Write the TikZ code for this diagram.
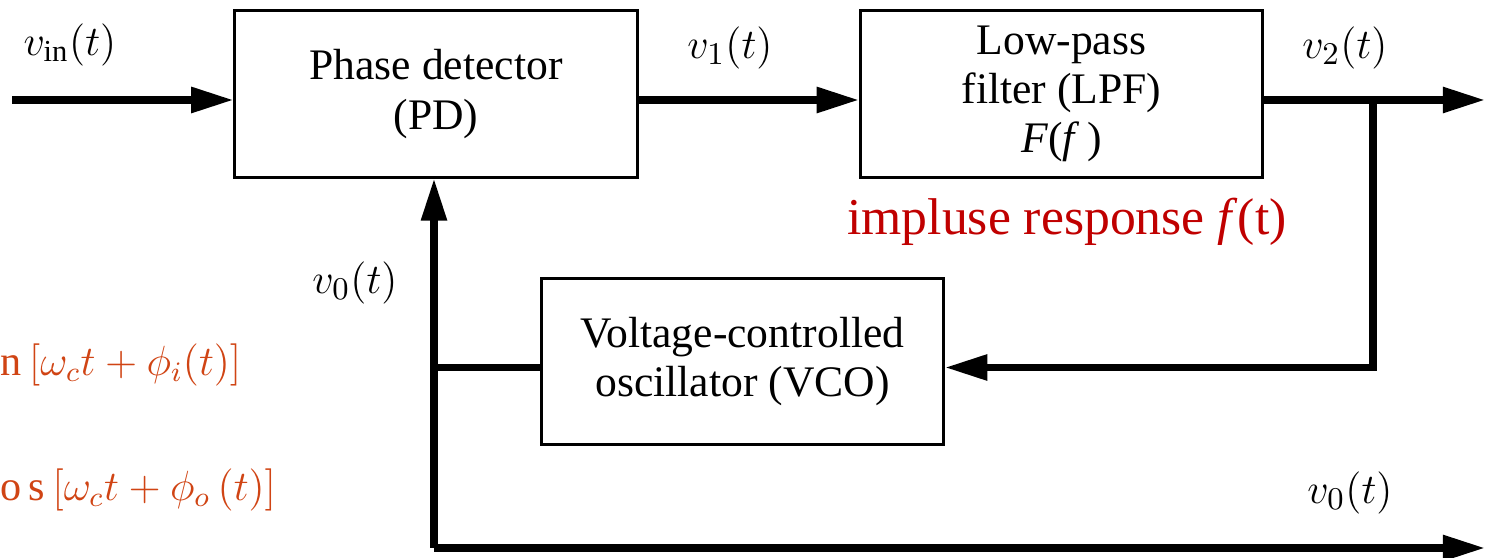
\documentclass[tikz,border=0pt]{standalone}
\usepackage{fontspec}
\setmainfont{Liberation Serif}
\usetikzlibrary{arrows.meta,positioning}
\definecolor{respred}{RGB}{192,0,0}
\definecolor{eqorange}{RGB}{208,68,20}
\begin{document}
\begin{tikzpicture}[x=0.01cm, y=0.01cm]
        \tikzset{blockbox/.style={rectangle, draw, line width=0.85pt, minimum width=4.02cm, minimum height=1.66cm, align=center, font=\fontsize{12.4}{14}\selectfont},
                 sig/.style={line width=2pt, -{Triangle[length=12pt, width=7pt]}},
                 wire/.style={line width=2pt},
                 siglabel/.style={font=\fontsize{12.4}{14}\selectfont},
                 eqtext/.style={text=eqorange, anchor=west, inner sep=0pt, font=\fontsize{12}{14}\selectfont}}
        \useasboundingbox (0,0) rectangle (1487,558);
        \node[blockbox] (pd) at (436,464) {Phase detector\\(PD)};
        \node[blockbox] (lpf) at (1061.5,464) {Low-pass\\filter (LPF)\\\textit{F}(\textit{f}\,)};
        \node[blockbox] (vco) at (742.5,196.5) {Voltage-controlled\\oscillator (VCO)};
        \coordinate (in) at (12,458);
        \coordinate (out) at (1485,458);
        \coordinate (tap) at (1373,458);
        \coordinate (fb) at (434,10);
        \coordinate (fbout) at (1485,10);
        \draw[sig] (in) -- (in -| pd.west);
        \draw[sig] (pd.east |- in) -- (lpf.west |- in);
        \draw[sig] (lpf.east |- in) -- (out);
        \draw[sig] (tap) |- ([yshift=-0.06cm]vco.east);
        \draw[wire] ([yshift=-0.06cm]vco.west) -| (fb);
        \draw[sig] (fb) -- (fb |- pd.south);
        \draw[sig] (fb) -- (fbout);
        \node[siglabel] (lin) at (70,513) {$v_{\mathrm{in}}(t)$};
        \node[siglabel] (l1) at (730,510) {$v_1(t)$};
        \node[siglabel] (l2) at (1345,510) {$v_2(t)$};
        \node[siglabel] (l0) at (355,275) {$v_0(t)$};
        \node[siglabel] (l0out) at (1350,65) {$v_0(t)$};
        \node[text=respred, font=\fontsize{14.7}{16}\selectfont] (resp) at (1067,336) {impluse response \textit{f}(t)};
        \node[eqtext] (eqin) at (0,193) {$\mathrm{n}\,[\omega_c t+\phi_i(t)]$};
        \node[eqtext] (eqout) at (0,68) {$\mathrm{o\,s}\,[\omega_c t+\phi_o\,(t)]$};
    \end{tikzpicture}
\end{document}
